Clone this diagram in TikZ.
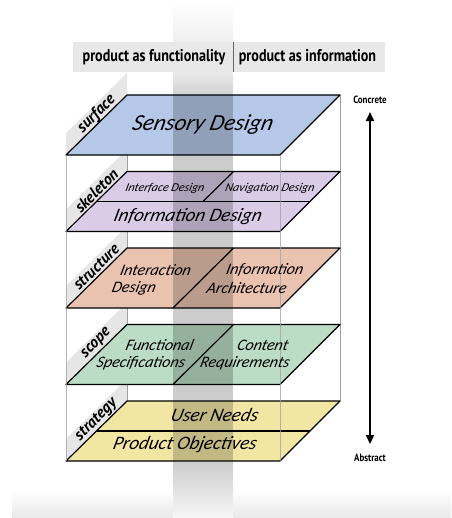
\documentclass[tikz,border=0pt]{standalone}
\usepackage{fontspec}
\setmainfont{Carlito}
\newfontfamily\headfont{PT Sans}
\newfontfamily\planefont{Carlito}
\usetikzlibrary{arrows.meta}

\definecolor{surfacefill}{HTML}{B6C8E8}
\definecolor{skeletonfill}{HTML}{DACBE6}
\definecolor{structurefill}{HTML}{EAC2B0}
\definecolor{scopefill}{HTML}{BCDCC6}
\definecolor{strategyfill}{HTML}{F2E6A4}
\definecolor{stripgrey}{HTML}{E6E6E6}
\definecolor{headgrey}{HTML}{E8E8E8}
\definecolor{framegrey}{HTML}{A0A0A0}

% one layer slab of the stack, back edge at height #1
\newcommand{\slab}[2]{%
  \filldraw[plane,fill=#2] (127,#1) -- (340,#1) -- (280,#1+60) -- (66,#1+60) -- cycle;}
% grey strip on the left face carrying the layer name
\newcommand{\sidestrip}[1]{%
  \fill[stripgrey] (66,#1+60) -- (127,#1) -- (127,#1-22) -- (66,#1+38) -- cycle;}

\begin{document}
\begin{tikzpicture}[x=1pt,y=-1pt,
  plane/.style={draw=black,line width=1.2pt,line join=round},
  divider/.style={draw=black,line width=1.2pt},
  frameline/.style={draw=framegrey,line width=0.8pt},
  headtext/.style={font=\headfont\bfseries\fontsize{17}{17}\selectfont,inner sep=0},
  layername/.style={font=\headfont\bfseries\itshape\fontsize{16}{16}\selectfont,rotate=45,inner sep=0},
  planetext/.style={font=\planefont\itshape,xslant=0.25,inner sep=0},
  axislabel/.style={font=\headfont\bfseries\fontsize{10.5}{10.5}\selectfont,inner sep=0},
]
\useasboundingbox (0,0) rectangle (451,518);
\fill[white] (0,0) rectangle (451,518);

% floor
\shade[top color=white,bottom color=black!9] (12,490) rectangle (451,518);

% upper part of the dividing column
\shade[top color=white,bottom color=black!6] (173,0) rectangle (233,42);
\shade[top color=black!8,bottom color=black!18] (173,72) rectangle (233,95);
% lower part of the dividing column
\shade[top color=black!20,bottom color=black!3] (173,461) rectangle (233,518);

% header band
\node[fill=headgrey,minimum width=312,minimum height=30,inner sep=0,anchor=north west] (head) at (73,42) {};
\draw[black!60,line width=0.9pt] (head.north) ++(4.5,0) coordinate (hdtop) -- (hdtop |- head.south);
\node[headtext] (func) at (154,57) {\scalebox{0.83}[1]{product as functionality}};
\node[headtext] (info) at (307.5,57) {\scalebox{0.83}[1]{product as information}};

% name strips on the left face
\foreach \yb in {95,171.5,248,324.5,401} {\sidestrip{\yb}}

% back vertical edges of the box
\draw[frameline] (127,95) -- (127,401);
\draw[frameline] (340,95) -- (340,401);

% surface
\slab{95}{surfacefill}
% skeleton
\slab{171.5}{skeletonfill}
\draw[divider] (96.5,201.5) -- (310,201.5);
\draw[divider] (233.5,171.5) -- (203,201.5);
% structure
\slab{248}{structurefill}
\draw[divider] (233.5,248) -- (173,308);
% scope
\slab{324.5}{scopefill}
\draw[divider] (233.5,324.5) -- (173,384.5);
% strategy
\slab{401}{strategyfill}
\draw[divider] (96.5,431) -- (310,431);

% dividing column seen through the stack
\fill[black,opacity=0.2] (173,95) rectangle (233,461);

% front vertical edges of the box
\draw[frameline,opacity=0.75] (66,155) -- (66,461);
\draw[frameline,opacity=0.75] (280,155) -- (280,461);

% layer names
\node[layername] (nsurface) at (96.5,114) {surface};
\node[layername] (nskeleton) at (96.5,190.5) {skeleton};
\node[layername] (nstructure) at (96.5,267) {structure};
\node[layername] (nscope) at (96.5,343.5) {scope};
\node[layername] (nstrategy) at (96.5,420) {strategy};

% slab contents
\node[planetext,font=\planefont\itshape\fontsize{23}{23}\selectfont] (sensory) at (203,125) {Sensory Design};
\node[planetext,font=\planefont\itshape\fontsize{12}{12}\selectfont] (iface) at (165,188) {Interface Design};
\node[planetext,font=\planefont\itshape\fontsize{12}{12}\selectfont] (nav) at (270,188) {Navigation Design};
\node[planetext,font=\planefont\itshape\fontsize{19}{19}\selectfont] (infod) at (188,217) {Information Design};
\node[planetext,font=\planefont\itshape\fontsize{16}{16}\selectfont] (ixa) at (156,270) {Interaction};
\node[planetext,font=\planefont\itshape\fontsize{16}{16}\selectfont] (ixb) at (134,288) {Design};
\node[planetext,font=\planefont\itshape\fontsize{16}{16}\selectfont] (iaa) at (265,270) {Information};
\node[planetext,font=\planefont\itshape\fontsize{16}{16}\selectfont] (iab) at (247,288) {Architecture};
\node[planetext,font=\planefont\itshape\fontsize{16}{16}\selectfont] (fsa) at (160,345) {Functional};
\node[planetext,font=\planefont\itshape\fontsize{16}{16}\selectfont] (fsb) at (141,363) {Specifications};
\node[planetext,font=\planefont\itshape\fontsize{16}{16}\selectfont] (cra) at (263,345) {Content};
\node[planetext,font=\planefont\itshape\fontsize{16}{16}\selectfont] (crb) at (245,363) {Requirements};
\node[planetext,font=\planefont\itshape\fontsize{19}{19}\selectfont] (uneeds) at (215,415) {User Needs};
\node[planetext,font=\planefont\itshape\fontsize{19}{19}\selectfont] (pobj) at (185,445) {Product Objectives};

% concrete / abstract axis
\node[axislabel] (conc) at (370,100) {\scalebox{0.85}[1]{Concrete}};
\node[axislabel] (abst) at (370,458) {\scalebox{0.85}[1]{Abstract}};
\draw[{Triangle[length=9pt,width=8pt]}-{Triangle[length=9pt,width=8pt]},line width=1.8pt]
  ([yshift=-8pt]conc.south) -- ([yshift=10pt]abst.north);
\end{tikzpicture}
\end{document}
